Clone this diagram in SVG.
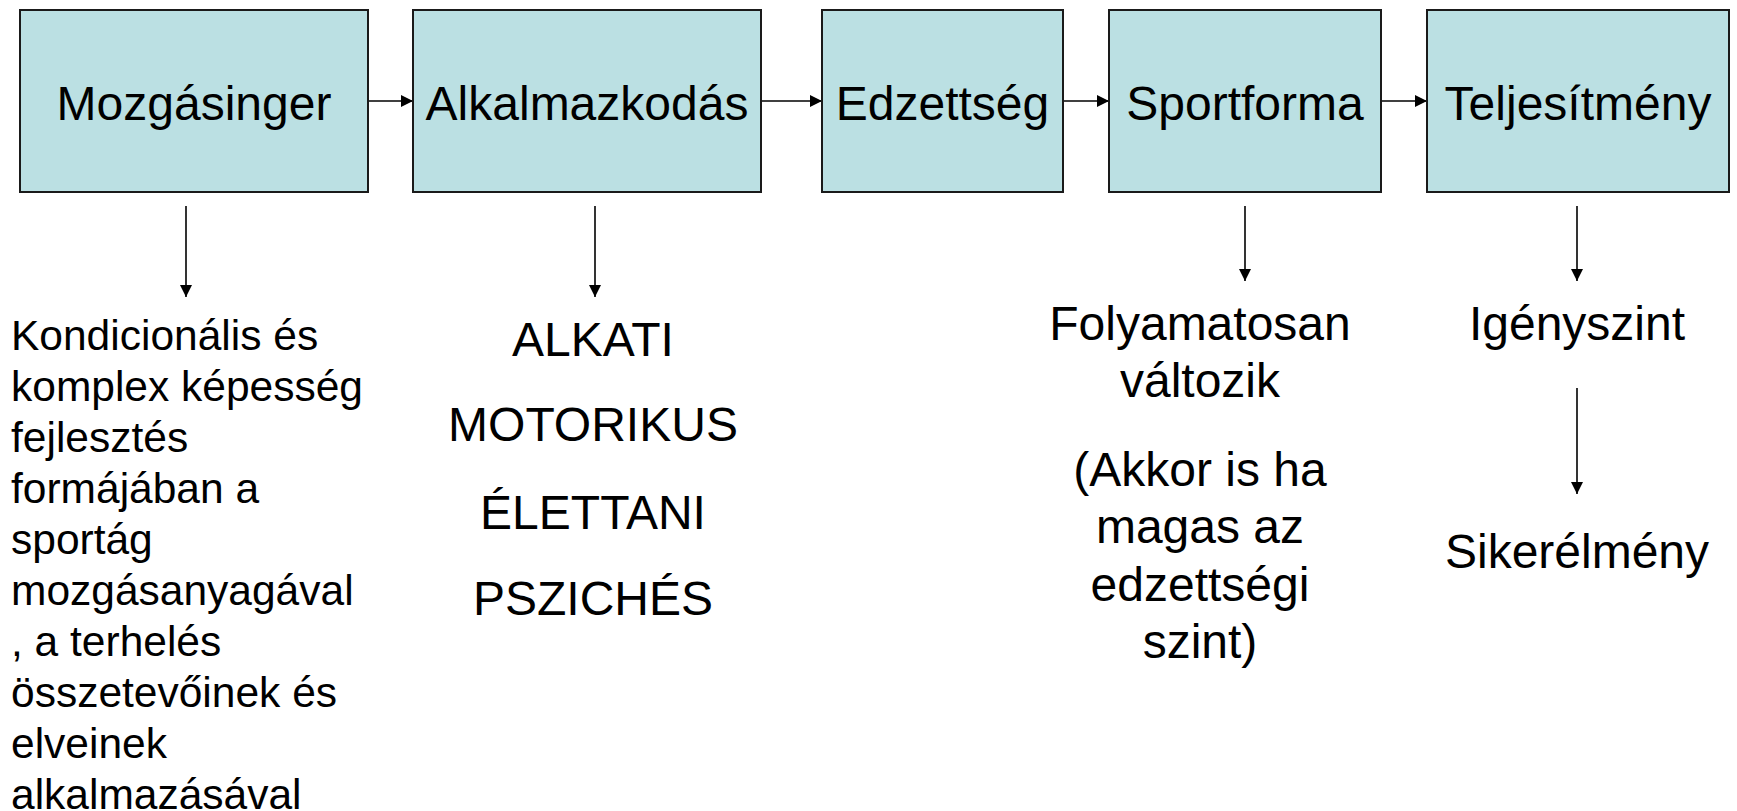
<svg xmlns="http://www.w3.org/2000/svg" width="1737" height="811" viewBox="0 0 1737 811">
<style>
.box{fill:#BBE0E3;stroke:#1a1a1a;stroke-width:2}
.t{font-family:"Liberation Sans",Arial,sans-serif;font-size:48px;fill:#000;text-anchor:middle}
.l{font-family:"Liberation Sans",Arial,sans-serif;font-size:42.5px;fill:#000}
.c{stroke:#000;stroke-width:1.6;fill:none;marker-end:url(#ah)}
</style>
<defs>
<marker id="ah" viewBox="0 0 10 10" refX="10" refY="5" markerUnits="userSpaceOnUse" markerWidth="13" markerHeight="12" orient="auto">
<path d="M0,0 L10,5 L0,10 Z" fill="#000"/>
</marker>
</defs>
<rect width="1737" height="811" fill="#fff"/>
<g id="connectors">
<line class="c" x1="368" y1="101" x2="413" y2="101"/>
<line class="c" x1="761" y1="101" x2="822" y2="101"/>
<line class="c" x1="1063" y1="101" x2="1109" y2="101"/>
<line class="c" x1="1381" y1="101" x2="1427" y2="101"/>
<line class="c" x1="186" y1="206" x2="186" y2="297"/>
<line class="c" x1="595" y1="206" x2="595" y2="297"/>
<line class="c" x1="1245" y1="206" x2="1245" y2="281"/>
<line class="c" x1="1577" y1="206" x2="1577" y2="281"/>
<line class="c" x1="1577" y1="388" x2="1577" y2="494"/>
</g>
<g id="n1"><rect class="box" x="20" y="10" width="348" height="182"/><text class="t" x="194" y="120">Mozgásinger</text></g>
<g id="n2"><rect class="box" x="413" y="10" width="348" height="182"/><text class="t" x="587" y="120">Alkalmazkodás</text></g>
<g id="n3"><rect class="box" x="822" y="10" width="241" height="182"/><text class="t" x="942.5" y="120">Edzettség</text></g>
<g id="n4"><rect class="box" x="1109" y="10" width="272" height="182"/><text class="t" x="1245" y="120">Sportforma</text></g>
<g id="n5"><rect class="box" x="1427" y="10" width="302" height="182"/><text class="t" x="1578" y="120">Teljesítmény</text></g>
<g id="n6">
<text class="l" x="11" y="350">Kondicionális és</text>
<text class="l" x="11" y="401">komplex képesség</text>
<text class="l" x="11" y="452">fejlesztés</text>
<text class="l" x="11" y="503">formájában a</text>
<text class="l" x="11" y="554">sportág</text>
<text class="l" x="11" y="605">mozgásanyagával</text>
<text class="l" x="11" y="656">, a terhelés</text>
<text class="l" x="11" y="707">összetevőinek és</text>
<text class="l" x="11" y="758">elveinek</text>
<text class="l" x="11" y="809">alkalmazásával</text>
</g>
<g id="n7">
<text class="t" x="593" y="356">ALKATI</text>
<text class="t" x="593" y="441">MOTORIKUS</text>
<text class="t" x="593" y="529">ÉLETTANI</text>
<text class="t" x="593" y="615">PSZICHÉS</text>
</g>
<g id="n8">
<text class="t" x="1200" y="340">Folyamatosan</text>
<text class="t" x="1200" y="397">változik</text>
<text class="t" x="1200" y="486">(Akkor is ha</text>
<text class="t" x="1200" y="543">magas az</text>
<text class="t" x="1200" y="601">edzettségi</text>
<text class="t" x="1200" y="658">szint)</text>
</g>
<g id="n9"><text class="t" x="1577" y="340">Igényszint</text></g>
<g id="n10"><text class="t" x="1577" y="568">Sikerélmény</text></g>
</svg>
